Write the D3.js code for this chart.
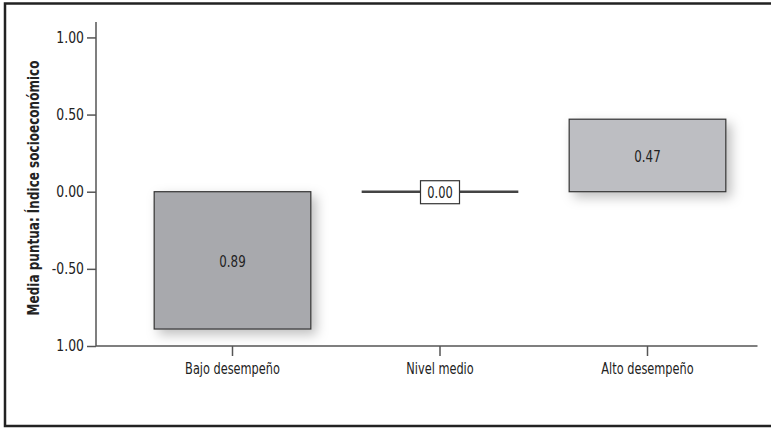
<!DOCTYPE html>
<html><head><meta charset="utf-8">
<script src="https://cdn.jsdelivr.net/npm/d3@7"></script>
<style>
html,body{margin:0;padding:0;background:#fff;}
svg{display:block;}
text{font-family:"DejaVu Sans Condensed","DejaVu Sans",sans-serif;font-stretch:condensed;fill:#222;}
</style></head>
<body>
<svg id="chart" width="771" height="428"></svg>
<script>
const categories = ["Bajo desempeño", "Nivel medio", "Alto desempeño"];
const values = [-0.89, 0.00, 0.47];
const valueLabels = ["0.89", "0.00", "0.47"];
const barColors = ["#a8a9ad", null, "#bdbec2"];
const yTickValues = [-1, -0.5, 0, 0.5, 1];
const yTickLabels = ["1.00", "-0.50", "0.00", "0.50", "1.00"];
const yTitle = "Media puntua: Índice socioeconómico";

const svg = d3.select("#chart");
const W = 771, H = 428;

// squeeze text horizontally to mimic a condensed face
function condense(sel, factor) {
  sel.each(function () {
    const len = this.getComputedTextLength();
    d3.select(this).attr("textLength", len * factor).attr("lengthAdjust", "spacingAndGlyphs");
  });
}

// frame (left, top, bottom)
svg.append("path")
  .attr("d", `M${W+2},3.5 L5,3.5 L5,426 L${W+2},426`)
  .attr("fill", "none").attr("stroke", "#222").attr("stroke-width", 2.5);

const defs = svg.append("defs");
const f = defs.append("filter").attr("id", "shadow")
  .attr("x", "-20%").attr("y", "-20%").attr("width", "150%").attr("height", "150%");
f.append("feDropShadow").attr("dx", 5).attr("dy", 5).attr("stdDeviation", 6)
  .attr("flood-color", "#000").attr("flood-opacity", 0.25);

const axisX0 = 96, axisX1 = 757.5;
const y = d3.scaleLinear().domain([-1, 1.1]).range([346, 22]);
const x = d3.scaleBand().domain(categories).range([128.75, 751.25])
  .paddingInner(0.245).paddingOuter(0.1225);

// y axis
const yAxis = d3.axisLeft(y).tickValues(yTickValues)
  .tickFormat((d, i) => yTickLabels[i]).tickSize(9).tickPadding(3);
const gy = svg.append("g").attr("transform", `translate(${axisX0},0)`).call(yAxis);
gy.select(".domain").remove();
gy.selectAll(".tick line").attr("stroke", "#555").attr("stroke-width", 1.5);
gy.selectAll(".tick text").attr("font-size", 15).attr("fill", "#222")
  .attr("font-family", null).call(condense, 0.92);
svg.append("line").attr("x1", axisX0).attr("x2", axisX0)
  .attr("y1", y(1.1)).attr("y2", y(-1))
  .attr("stroke", "#555").attr("stroke-width", 1.5);

// x axis
const xAxis = d3.axisBottom(x).tickSize(10).tickPadding(7);
const gx = svg.append("g").attr("transform", `translate(0,${y(-1)})`).call(xAxis);
gx.select(".domain").remove();
gx.selectAll(".tick line").attr("stroke", "#555").attr("stroke-width", 1.5);
gx.selectAll(".tick text").attr("font-size", 15).attr("fill", "#222")
  .attr("font-family", null).call(condense, 0.84);
svg.append("line").attr("x1", axisX0).attr("x2", axisX1)
  .attr("y1", y(-1)).attr("y2", y(-1))
  .attr("stroke", "#555").attr("stroke-width", 1.5);

// y title
svg.append("text")
  .attr("transform", `translate(38.5,${188}) rotate(-90)`)
  .attr("text-anchor", "middle").attr("font-size", 16.5).attr("font-weight", "bold")
  .attr("fill", "#111")
  .text(yTitle)
  .call(condense, 0.81);

// bars
const data = categories.map((c, i) => ({c, v: values[i], label: valueLabels[i], color: barColors[i]}));
data.forEach(d => {
  const x0 = x(d.c), bw = x.bandwidth();
  if (d.v !== 0) {
    svg.append("rect")
      .attr("x", x0).attr("width", bw)
      .attr("y", y(Math.max(0, d.v))).attr("height", Math.abs(y(d.v) - y(0)))
      .attr("fill", d.color).attr("stroke", "#333").attr("stroke-width", 1.2)
      .attr("filter", "url(#shadow)");
    svg.append("text")
      .attr("x", x0 + bw / 2).attr("y", (y(d.v) + y(0)) / 2 + 2)
      .attr("text-anchor", "middle").attr("dominant-baseline", "central")
      .attr("font-size", 15.5).attr("fill", "#222")
      .text(d.label).call(condense, 0.85);
  } else {
    svg.append("line")
      .attr("x1", x0).attr("x2", x0 + bw).attr("y1", y(0)).attr("y2", y(0))
      .attr("stroke", "#444").attr("stroke-width", 2.5);
    const cx = x0 + bw / 2;
    svg.append("rect")
      .attr("x", cx - 19.5).attr("y", y(0) - 11).attr("width", 39).attr("height", 23)
      .attr("fill", "#fff").attr("stroke", "#333").attr("stroke-width", 1.2);
    svg.append("text")
      .attr("x", cx).attr("y", y(0) + 1)
      .attr("text-anchor", "middle").attr("dominant-baseline", "central")
      .attr("font-size", 15).attr("fill", "#222")
      .text(d.label).call(condense, 0.85);
  }
});
</script>
</body></html>
